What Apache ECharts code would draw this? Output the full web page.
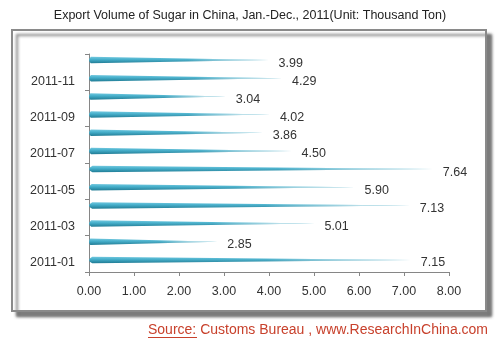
<!DOCTYPE html>
<html>
<head>
<meta charset="utf-8">
<script src="https://cdn.jsdelivr.net/npm/echarts@6/dist/echarts.min.js"></script>
<style>html,body{margin:0;padding:0;background:#fff;}#c{width:500px;height:339px;}</style>
</head>
<body>
<div id="c"></div>
<script>
var months = ['2011-01','2011-02','2011-03','2011-04','2011-05','2011-06','2011-07','2011-08','2011-09','2011-10','2011-11','2011-12'];
var exportVolume = [7.15, 2.85, 5.01, 7.13, 5.90, 7.64, 4.50, 3.86, 4.02, 3.04, 4.29, 3.99];
var xTicks = {min: 0, max: 8, interval: 1};
var titleText = 'Export Volume of Sugar in China, Jan.-Dec., 2011(Unit: Thousand Ton)';

var FONT = '"Liberation Sans", Arial, sans-serif';
var chart = echarts.init(document.getElementById('c'), null, {renderer: 'canvas'});
var cone = 'path://M2,0 L100,5 L2,10 Q0,5 2,0 Z';
chart.setOption({
  animation: false,
  backgroundColor: '#fff',
  title: {
    text: titleText, left: 'center', top: 4,
    textStyle: {fontFamily: FONT, fontSize: 12.5, fontWeight: 'normal', color: '#222'}
  },
  graphic: [
    {type: 'rect', z: -10, shape: {x: 12, y: 30, width: 474, height: 281},
     style: {fill: '#fff', stroke: '#8a8a8a', lineWidth: 2, shadowBlur: 3, shadowOffsetX: 5, shadowOffsetY: 5, shadowColor: 'rgba(0,0,0,0.5)'}},
    {type: 'text', z: 100, x: 148, y: 330,
     style: {text: 'Source: Customs Bureau , www.ResearchInChina.com', fill: '#c8412c', font: '14px ' + FONT, textVerticalAlign: 'middle'}},
    {type: 'line', z: 100, shape: {x1: 148, y1: 337.5, x2: 197, y2: 337.5}, style: {stroke: '#c8412c', lineWidth: 1}}
  ],
  grid: {left: 89, right: 51, top: 54, bottom: 67, containLabel: false},
  xAxis: {
    type: 'value', min: xTicks.min, max: xTicks.max, interval: xTicks.interval,
    axisLine: {show: true, lineStyle: {color: '#868686'}},
    axisTick: {show: true, length: 4, lineStyle: {color: '#868686'}},
    splitLine: {show: false},
    axisLabel: {fontFamily: FONT, fontSize: 12.5, color: '#333', margin: 13, formatter: function (v) { return v.toFixed(2); }}
  },
  yAxis: {
    type: 'category', data: months,
    axisLine: {show: true, lineStyle: {color: '#868686'}},
    axisTick: {show: true, interval: 1, length: 4, lineStyle: {color: '#868686'}},
    axisLabel: {interval: 1, fontFamily: FONT, fontSize: 12.5, color: '#333', margin: 14}
  },
  series: [
    {
      type: 'pictorialBar', data: exportVolume, symbol: cone, symbolSize: ['100%', 6.5],
      symbolPosition: 'start', symbolOffset: [0, -3], z: 3,
      itemStyle: {color: new echarts.graphic.LinearGradient(0, 0, 0, 1, [
        {offset: 0, color: '#72c8df'}, {offset: 0.4, color: '#45afcb'}, {offset: 1, color: '#1f7b94'}])}
    },
    {
      type: 'pictorialBar', data: exportVolume, symbol: cone, symbolSize: ['100%', 6.5],
      symbolPosition: 'start', symbolOffset: [0, -3], barGap: '-100%', z: 4,
      itemStyle: {color: new echarts.graphic.LinearGradient(0, 0, 1, 0, [
        {offset: 0, color: 'rgba(255,255,255,0)'}, {offset: 0.55, color: 'rgba(255,255,255,0.05)'}, {offset: 1, color: 'rgba(255,255,255,0.95)'}])},
      label: {show: true, position: 'right', distance: 10, offset: [0, 0], fontFamily: FONT, fontSize: 12.5, color: '#333',
        formatter: function (p) { return p.value.toFixed(2); }}
    }
  ]
});
</script>
</body>
</html>
